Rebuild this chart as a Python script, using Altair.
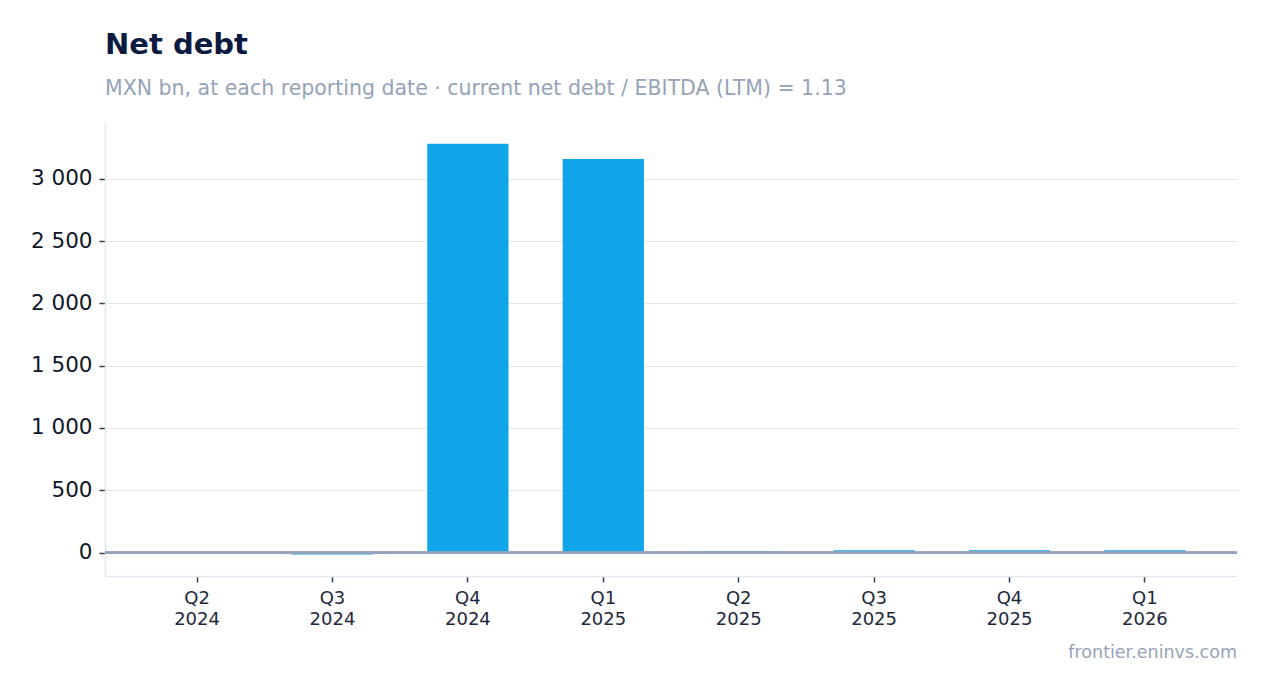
import altair as alt
import pandas as pd

quarters = ["Q2 2024", "Q3 2024", "Q4 2024", "Q1 2025", "Q2 2025", "Q3 2025", "Q4 2025", "Q1 2026"]
net_debt = [0, -15, 3281, 3160, 10, 19, 19, 19]

df = pd.DataFrame({"quarter": quarters, "net_debt": net_debt})

x_enc = alt.X(
    "quarter:N",
    sort=quarters,
    title=None,
    scale=alt.Scale(paddingInner=0.4, paddingOuter=0.38),
    axis=alt.Axis(
        labelExpr="split(datum.label, ' ')",
        labelAngle=0,
        labelFontSize=18,
        labelColor="#1e293b",
        labelLineHeight=21,
        labelPadding=7,
        tickSize=6,
        tickWidth=1.5,
        tickColor="#334155",
        domainColor="#e2e8f0",
        domainWidth=1.5,
        grid=False,
    ),
)

bars = alt.Chart(df).mark_bar(color="#0ea5e9").encode(
    x=x_enc,
    y=alt.Y(
        "net_debt:Q",
        title=None,
        scale=alt.Scale(domain=[-188, 3448], nice=False, zero=False),
        axis=alt.Axis(
            values=[0, 500, 1000, 1500, 2000, 2500, 3000],
            labelExpr="replace(format(datum.value, ','), ',', ' ')",
            labelFontSize=21.5,
            labelColor="#0f172a",
            labelPadding=7,
            tickSize=6,
            tickWidth=1.5,
            tickColor="#334155",
            domainColor="#e2e8f0",
            domainWidth=1.5,
            gridColor="#e2e8f0",
            gridWidth=1.2,
        ),
    ),
)

zero_rule = alt.Chart(df).mark_rule(color="#94a3b8", strokeWidth=1.6).encode(
    y=alt.datum(0)
)

footer = alt.Chart(pd.DataFrame({"t": ["frontier.eninvs.com"]})).mark_text(
    align="right", baseline="alphabetic", fontSize=17.5, color="#94a3b8"
).encode(text="t:N", x=alt.value(1132), y=alt.value(535))

chart = alt.layer(bars, zero_rule, footer).properties(
    width=1132,
    height=453,
    autosize=alt.AutoSizeParams(type="none"),
    padding={"left": 97, "top": 115, "right": 22, "bottom": 109},
    title=alt.TitleParams(
        text="Net debt",
        subtitle="MXN bn, at each reporting date · current net debt / EBITDA (LTM) = 1.13",
        anchor="start",
        frame="group",
        fontSize=29,
        fontWeight="bold",
        color="#0b1a40",
        subtitleFontSize=20.5,
        subtitleColor="#94a3b8",
        subtitlePadding=19,
        offset=24,
    ),
).configure(font="DejaVu Sans").configure_view(stroke=None)

chart.save("out.html", embed_options={"renderer": "svg", "actions": False})
